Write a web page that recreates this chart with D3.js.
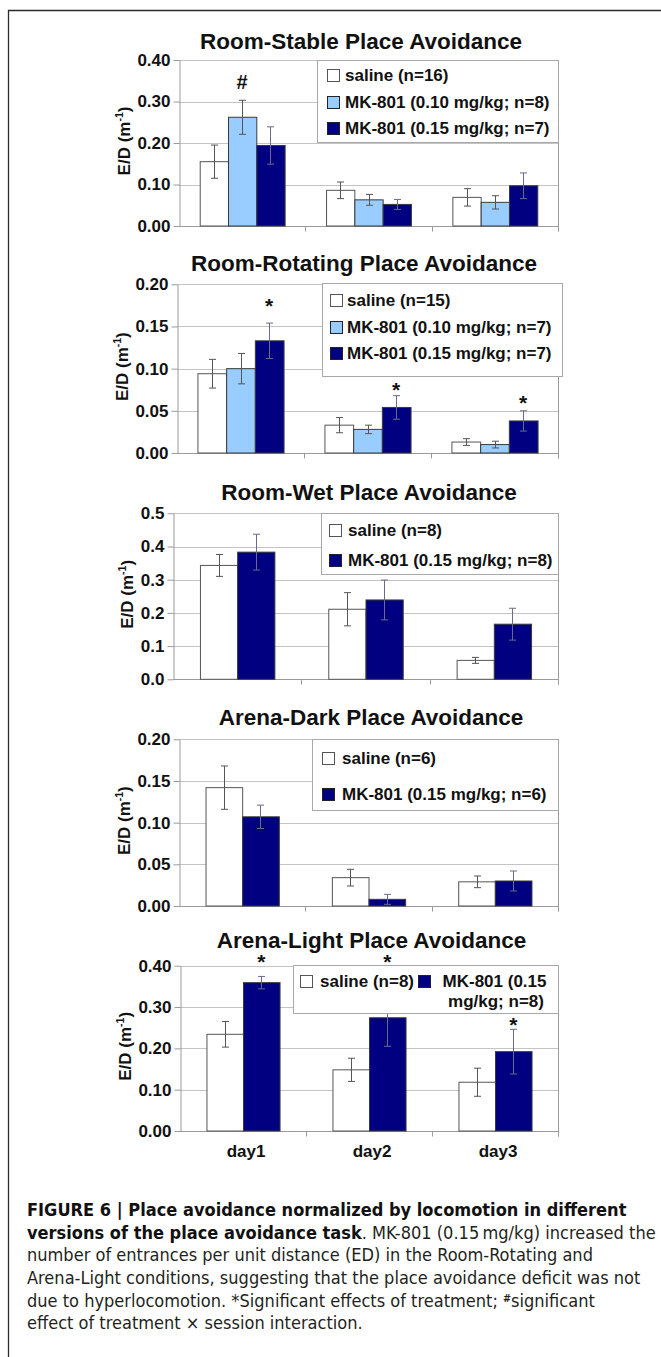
<!DOCTYPE html>
<html>
<head>
<meta charset="utf-8">
<script src="https://cdn.jsdelivr.net/npm/d3@7/dist/d3.min.js"></script>
<style>
  html, body { margin: 0; padding: 0; background: #fff; }
  svg { display: block; font-family: "Liberation Sans", Arial, Helvetica, sans-serif; }
</style>
</head>
<body>
<svg id="fig" width="661" height="1357"></svg>
<script>
// ---- data -------------------------------------------------------------
const days = ["day1", "day2", "day3"];

// Room-Stable
const stableSaline    = [0.155, 0.086, 0.069];
const stableSalineSem = [0.040, 0.020, 0.021];
const stableMk010     = [0.262, 0.063, 0.057];
const stableMk010Sem  = [0.041, 0.013, 0.016];
const stableMk015     = [0.194, 0.052, 0.097];
const stableMk015Sem  = [0.045, 0.012, 0.031];
const stableTicks     = [0, 0.10, 0.20, 0.30, 0.40];
const stableLegend    = ["saline (n=16)", "MK-801 (0.10 mg/kg; n=8)", "MK-801 (0.15 mg/kg; n=7)"];
const stableMarks     = [{ day: "day1", series: 1, symbol: "#", at: 0.348 }];

// Room-Rotating
const rotSaline    = [0.094, 0.033, 0.013];
const rotSalineSem = [0.017, 0.009, 0.004];
const rotMk010     = [0.100, 0.028, 0.010];
const rotMk010Sem  = [0.018, 0.005, 0.004];
const rotMk015     = [0.133, 0.054, 0.038];
const rotMk015Sem  = [0.021, 0.014, 0.012];
const rotTicks     = [0, 0.05, 0.10, 0.15, 0.20];
const rotLegend    = ["saline (n=15)", "MK-801 (0.10 mg/kg; n=7)", "MK-801 (0.15 mg/kg; n=7)"];
const rotMarks     = [
  { day: "day1", series: 2, symbol: "*", at: 0.179 },
  { day: "day2", series: 2, symbol: "*", at: 0.0786 },
  { day: "day3", series: 2, symbol: "*", at: 0.0636 }
];

// Room-Wet
const wetSaline    = [0.343, 0.211, 0.057];
const wetSalineSem = [0.033, 0.050, 0.009];
const wetMk015     = [0.383, 0.239, 0.166];
const wetMk015Sem  = [0.054, 0.060, 0.048];
const wetTicks     = [0, 0.1, 0.2, 0.3, 0.4, 0.5];
const wetLegend    = ["saline (n=8)", "MK-801 (0.15 mg/kg; n=8)"];

// Arena-Dark
const darkSaline    = [0.142, 0.034, 0.029];
const darkSalineSem = [0.026, 0.010, 0.007];
const darkMk015     = [0.107, 0.008, 0.030];
const darkMk015Sem  = [0.014, 0.006, 0.012];
const darkTicks     = [0, 0.05, 0.10, 0.15, 0.20];
const darkLegend    = ["saline (n=6)", "MK-801 (0.15 mg/kg; n=6)"];

// Arena-Light
const lightSaline    = [0.234, 0.148, 0.118];
const lightSalineSem = [0.031, 0.028, 0.034];
const lightMk015     = [0.359, 0.274, 0.192];
const lightMk015Sem  = [0.015, 0.069, 0.054];
const lightTicks     = [0, 0.10, 0.20, 0.30, 0.40];
const lightLegend    = ["saline (n=8)", "MK-801 (0.15", "mg/kg; n=8)"];
const lightMarks     = [
  { day: "day1", series: 1, symbol: "*", at: 0.418 },
  { day: "day2", series: 1, symbol: "*", at: 0.418 },
  { day: "day3", series: 1, symbol: "*", at: 0.265 }
];

// ---- styling ----------------------------------------------------------
const SALINE = "#ffffff", MK010 = "#99ccff", MK015 = "#000080";
const GRID = "#c4c4c4", AXIS = "#9a9a9a";
const TITLE_FS = 22.5, TICK_FS = 17, LEG_FS = 17;

const panels = [
  {
    title: "Room-Stable Place Avoidance", titleX: 361, titleY: 48.5,
    top: 60, bottom: 226, left: 179, right: 558, ticks: stableTicks, fmt: ".2f", barFrac: 0.224,
    series: [
      { values: stableSaline, sem: stableSalineSem, fill: SALINE },
      { values: stableMk010, sem: stableMk010Sem, fill: MK010 },
      { values: stableMk015, sem: stableMk015Sem, fill: MK015 }
    ],
    legend: { x0: 317, x1: 558, y0: 60, y1: 142, swatchX: 327, textX: 345, rows: [75, 101.7, 128.3], labels: stableLegend },
    marks: stableMarks
  },
  {
    title: "Room-Rotating Place Avoidance", titleX: 364, titleY: 271,
    top: 284.3, bottom: 453, left: 177, right: 558, ticks: rotTicks, fmt: ".2f", barFrac: 0.226,
    series: [
      { values: rotSaline, sem: rotSalineSem, fill: SALINE },
      { values: rotMk010, sem: rotMk010Sem, fill: MK010 },
      { values: rotMk015, sem: rotMk015Sem, fill: MK015 }
    ],
    legend: { x0: 322, x1: 562, y0: 283, y1: 376, swatchX: 330, textX: 347, rows: [300, 326.7, 353.3], labels: rotLegend },
    marks: rotMarks
  },
  {
    title: "Room-Wet Place Avoidance", titleX: 369, titleY: 500,
    top: 513.3, bottom: 679.3, left: 173, right: 558, ticks: wetTicks, fmt: ".1f", barFrac: 0.29,
    series: [
      { values: wetSaline, sem: wetSalineSem, fill: SALINE },
      { values: wetMk015, sem: wetMk015Sem, fill: MK015 }
    ],
    legend: { x0: 321, x1: 558, y0: 513, y1: 574, swatchX: 329, textX: 348, rows: [530, 560], labels: wetLegend },
    marks: []
  },
  {
    title: "Arena-Dark Place Avoidance", titleX: 371, titleY: 725,
    top: 739.3, bottom: 906, left: 179, right: 558, ticks: darkTicks, fmt: ".2f", barFrac: 0.29,
    series: [
      { values: darkSaline, sem: darkSalineSem, fill: SALINE },
      { values: darkMk015, sem: darkMk015Sem, fill: MK015 }
    ],
    legend: { x0: 312, x1: 558, y0: 739, y1: 810, swatchX: 322, textX: 342, rows: [758.3, 794], labels: darkLegend },
    marks: []
  },
  {
    title: "Arena-Light Place Avoidance", titleX: 371.5, titleY: 947.5,
    top: 965.7, bottom: 1131, left: 180, right: 558, ticks: lightTicks, fmt: ".2f", barFrac: 0.29,
    series: [
      { values: lightSaline, sem: lightSalineSem, fill: SALINE },
      { values: lightMk015, sem: lightMk015Sem, fill: MK015 }
    ],
    legend: null,
    marks: lightMarks,
    showDays: true
  }
];

const svg = d3.select("#fig");

// outer figure frame (open at the bottom / right edges of the page)
svg.append("path")
  .attr("d", "M8.5,1357V10.5H672")
  .attr("fill", "none").attr("stroke", "#2b2b2b").attr("stroke-width", 1.3);

function swatch(g, x, cy, fill) {
  g.append("rect")
    .attr("x", x + 0.5).attr("y", Math.round(cy - 6) + 0.5)
    .attr("width", 12).attr("height", 12)
    .attr("fill", fill).attr("stroke", fill === SALINE ? "#555" : "#222").attr("stroke-width", 1);
}

function boldText(g, x, y, fs, str, anchor) {
  return g.append("text")
    .attr("x", x).attr("y", y)
    .attr("text-anchor", anchor || "start")
    .attr("font-size", fs).attr("font-weight", "bold").attr("fill", "#111")
    .text(str);
}

panels.forEach(p => {
  const g = svg.append("g");
  const x = d3.scaleBand().domain(days).range([p.left, p.right]);
  const y = d3.scaleLinear().domain([0, d3.max(p.ticks)]).range([p.bottom, p.top]);
  const y0 = Math.round(y(0)) + 0.5;

  // title
  boldText(g, p.titleX, p.titleY, TITLE_FS, p.title, "middle");

  // horizontal gridlines
  g.selectAll("line.grid").data(p.ticks.filter(t => t > 0)).join("line")
    .attr("x1", p.left).attr("x2", p.right)
    .attr("y1", d => Math.round(y(d)) + 0.5).attr("y2", d => Math.round(y(d)) + 0.5)
    .attr("stroke", GRID).attr("stroke-width", 1);

  // right border of plot area
  g.append("line")
    .attr("x1", p.right + 0.5).attr("x2", p.right + 0.5)
    .attr("y1", y(d3.max(p.ticks))).attr("y2", y0 + 5)
    .attr("stroke", AXIS);

  // category axis: baseline plus boundary ticks
  g.append("line").attr("x1", p.left).attr("x2", p.right).attr("y1", y0).attr("y2", y0).attr("stroke", AXIS);
  const bounds = days.slice(1).map(d => x(d)).concat([p.right]);
  g.selectAll("line.ctick").data(bounds).join("line")
    .attr("x1", d => Math.round(d) + 0.5).attr("x2", d => Math.round(d) + 0.5)
    .attr("y1", y0).attr("y2", y0 + 5).attr("stroke", AXIS);

  // value axis
  const ax = g.append("g")
    .attr("transform", `translate(${p.left + 0.5},0)`)
    .call(d3.axisLeft(y).tickValues(p.ticks).tickSize(6).tickSizeOuter(0).tickPadding(3)
      .tickFormat(d3.format(p.fmt)));
  ax.select(".domain").attr("stroke", AXIS);
  ax.selectAll(".tick line").attr("stroke", AXIS);
  ax.selectAll(".tick text")
    .attr("font-size", TICK_FS).attr("font-weight", "bold").attr("fill", "#111")
    .attr("font-family", "'Liberation Sans', Arial, sans-serif");

  // axis title, placed left of the tick labels
  const bb = ax.node().getBBox();
  const cx = p.left + bb.x - 13;
  const lab = g.append("text")
    .attr("transform", `translate(${cx + 6},${(p.top + p.bottom) / 2 - 2}) rotate(-90)`)
    .attr("text-anchor", "middle")
    .attr("font-size", 17).attr("font-weight", "bold").attr("fill", "#111");
  lab.append("tspan").text("E/D (m");
  lab.append("tspan").attr("font-size", 10.5).attr("dy", -7).text("-1");
  lab.append("tspan").attr("dy", 7).text(")");

  // bars
  const n = p.series.length;
  const bw = x.bandwidth() * p.barFrac;
  const barX = (day, i) => x(day) + x.bandwidth() / 2 - (n * bw) / 2 + i * bw;

  p.series.forEach((s, i) => {
    const rows = days.map((d, j) => ({ day: d, v: s.values[j], e: s.sem[j] }));
    g.selectAll(null).data(rows).join("rect")
      .attr("x", d => barX(d.day, i) + 0.5)
      .attr("y", d => y(d.v))
      .attr("width", bw)
      .attr("height", d => y(0) - y(d.v))
      .attr("fill", s.fill)
      .attr("stroke", s.fill === SALINE ? "#555" : "#3a3a3a")
      .attr("stroke-width", 1);

    const eb = g.selectAll(null).data(rows).join("g")
      .attr("transform", d => `translate(${Math.round(barX(d.day, i) + bw / 2) + 0.5},0)`);
    eb.append("line").attr("y1", d => y(d.v + d.e)).attr("y2", d => y(d.v - d.e));
    eb.append("line").attr("x1", -3.5).attr("x2", 3.5).attr("y1", d => y(d.v + d.e)).attr("y2", d => y(d.v + d.e));
    eb.append("line").attr("x1", -3.5).attr("x2", 3.5).attr("y1", d => y(d.v - d.e)).attr("y2", d => y(d.v - d.e));
    eb.selectAll("line").attr("stroke", s.fill === MK015 ? "#6a6a8a" : "#555").attr("stroke-width", 1);
  });

  // significance marks (the asterisk glyph sits high in its em box)
  p.marks.forEach(m => {
    const fs = m.symbol === "*" ? 21 : 20;
    const lift = m.symbol === "*" ? 0.5 * fs : 0.36 * fs;
    boldText(g, barX(m.day, m.series) + bw / 2, y(m.at) + lift, fs, m.symbol, "middle");
  });

  // legend
  if (p.legend) {
    const L = p.legend;
    g.append("rect")
      .attr("x", L.x0 + 0.5).attr("y", L.y0 + 0.5)
      .attr("width", L.x1 - L.x0).attr("height", L.y1 - L.y0)
      .attr("fill", "#fff").attr("stroke", "#a8a8a8");
    L.rows.forEach((ry, i) => {
      swatch(g, L.swatchX, ry, p.series[i].fill);
      boldText(g, L.textX, ry + 6, LEG_FS, L.labels[i]);
    });
  } else {
    // two-column legend with a wrapped second entry
    g.append("rect")
      .attr("x", 293.5).attr("y", 965.5)
      .attr("width", 265).attr("height", 48)
      .attr("fill", "#fff").attr("stroke", "#a8a8a8");
    swatch(g, 300, 981, p.series[0].fill);
    boldText(g, 320, 987, LEG_FS, lightLegend[0]);
    swatch(g, 418, 981, p.series[1].fill);
    boldText(g, 494.5, 987, LEG_FS, lightLegend[1], "middle");
    boldText(g, 496, 1007, LEG_FS, lightLegend[2], "middle");
  }

  // category labels
  if (p.showDays) {
    g.selectAll(null).data(days).join("text")
      .attr("x", d => x(d) + x.bandwidth() / 2 + 3)
      .attr("y", y0 + 25)
      .attr("text-anchor", "middle")
      .attr("font-size", 17).attr("font-weight", "bold").attr("fill", "#111")
      .text(d => d);
  }
});

// ---- caption ----------------------------------------------------------
const capFont = "'Liberation Sans Narrow', 'DejaVu Sans Condensed', 'Liberation Sans', sans-serif";
const capLines = [
  [["FIGURE 6 | Place avoidance normalized by locomotion in different", true]],
  [["versions of the place avoidance task", true], [". MK-801 (0.15\u2009mg/kg) increased the", false]],
  [["number of entrances per unit distance (ED) in the Room-Rotating and", false]],
  [["Arena-Light conditions, suggesting that the place avoidance deficit was not", false]],
  [["due to hyperlocomotion. *Significant effects of treatment; ", false], ["#", "sup"], ["significant", "after"]],
  [["effect of treatment \u00d7 session interaction.", false]]
];
const capBase = 1216, capStep = 22.7, capLeft = 27;
const cap = svg.append("g").attr("font-family", capFont).attr("font-size", 17);
const capTexts = capLines.map((parts, i) => {
  const t = cap.append("text").attr("x", capLeft).attr("y", capBase + i * capStep).attr("fill", "#231f20");
  parts.forEach(([str, kind]) => {
    const ts = t.append("tspan").text(str);
    if (kind === true) ts.attr("font-weight", "bold").attr("fill", "#111");
    if (kind === "sup") ts.attr("font-size", 10).attr("font-weight", "bold").attr("dy", -5);
    if (kind === "after") ts.attr("dy", 5);
  });
  return t;
});
// widen the caption so its longest regular line spans the text column
const w4 = capTexts[3].node().getComputedTextLength();
const sx = 614 / w4;
cap.attr("transform", `translate(${capLeft},0) scale(${sx},1) translate(${-capLeft},0)`);
</script>
</body>
</html>
